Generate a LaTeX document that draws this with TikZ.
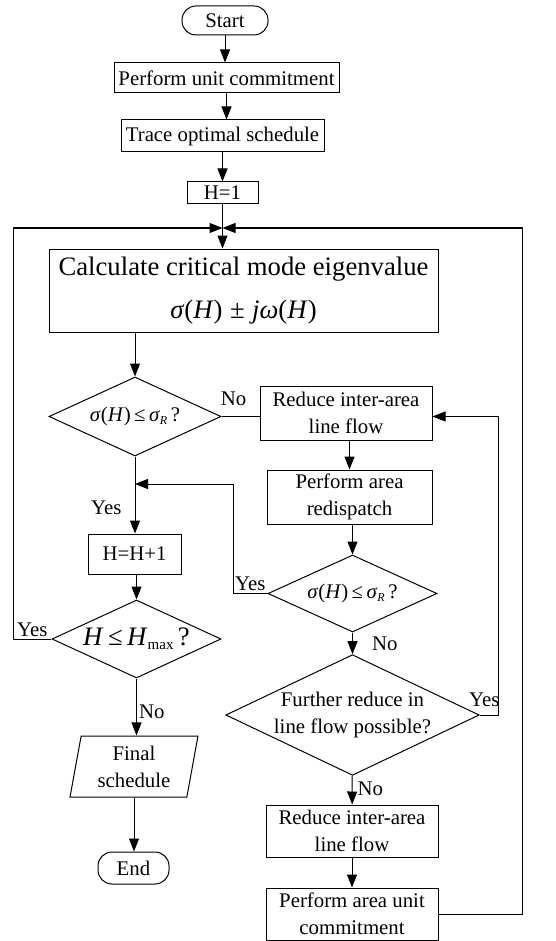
\documentclass[tikz,border=0pt]{standalone}
\usepackage{fontspec}
\setmainfont{Liberation Serif}
\usetikzlibrary{shapes.geometric,arrows.meta}

\newcommand{\normtext}{\fontsize{20.8}{27}\selectfont}
\newcommand{\bigtext}{\fontsize{26.7}{43}\selectfont}
\newcommand{\lowsub}[1]{\raisebox{-0.35ex}{\fontsize{12}{12}\selectfont #1}}

\begin{document}
\begin{tikzpicture}[x=1pt,y=-1pt,line width=1pt,
    >={Triangle[length=13pt,width=10pt]},
    every node/.style={font=\normtext},
    box/.style={rectangle,draw,inner sep=0pt,align=center},
    term/.style={rectangle,draw,rounded corners=14pt,inner sep=0pt},
    cond/.style={diamond,draw,aspect=2.1,inner sep=0pt,align=center},
    io/.style={trapezium,draw,trapezium left angle=75,trapezium right angle=105,
        trapezium stretches body,inner sep=0pt,align=center},
    lbl/.style={inner sep=2pt}]
\useasboundingbox (0,0) rectangle (556,941);

% main column
\path
(225,20.5) node[term,minimum width=86pt,minimum height=29pt](start) {Start}
(226.5,78) node[box,minimum width=225pt,minimum height=30pt](uc) {Perform unit commitment}
(222.5,136) node[box,minimum width=203pt,minimum height=32pt](trace) {Trace optimal schedule}
(222.5,193) node[box,minimum width=71pt,minimum height=22pt](hinit) {H=1}
(243.5,290.5) node[box,minimum width=389pt,minimum height=83pt,font=\bigtext](calc)
    {Calculate critical mode eigenvalue\\ \textit{σ}(\textit{H})\;±\;\textit{jω}(\textit{H})\hspace{12pt}}
(135,416.5) node[cond,minimum width=172pt,minimum height=79pt](d1)
    {\textit{σ}(\textit{H})\,≤\,\textit{σ}\lowsub{\textit{R}}\,?}
(134.5,554) node[box,minimum width=93pt,minimum height=40pt](hinc) {H=H+1}
(136.5,639) node[cond,minimum width=169pt,minimum height=78pt,font=\bigtext](d3)
    {\textit{H}\,≤\,\textit{H}\lowsub{\fontsize{15}{15}\selectfont max}\,?}
(134,766.5) node[io,minimum width=128pt,minimum height=61pt](final) {Final\\schedule}
(133.5,868) node[term,minimum width=71pt,minimum height=32pt](stop) {End};

% right column
\path
(346,413) node[box,minimum width=172pt,minimum height=54pt](r1) {Reduce inter-area\\line flow}
(349.5,497) node[box,minimum width=165pt,minimum height=54pt](redisp) {Perform area\\redispatch}
(352.5,593.5) node[cond,minimum width=169pt,minimum height=77pt](d2)
    {\textit{σ}(\textit{H})\,≤\,\textit{σ}\lowsub{\textit{R}}\,?}
(352.5,715) node[cond,minimum width=241pt,minimum height=114pt](d4)
    {Further reduce in\\line flow possible?}
(352,831) node[box,minimum width=172pt,minimum height=52pt](r2) {Reduce inter-area\\line flow}
(352,914) node[box,minimum width=172pt,minimum height=52pt](auc) {Perform area unit\\commitment};

\coordinate (j) at (222.5,228);
\coordinate (loopL) at (13,228);
\coordinate (loopR) at (522,228);
\coordinate (loopM) at (498,416.5);
\coordinate (ret) at (233,484);

\draw[->] (start) -- (start |- uc.north);
\draw[->] (uc) -- (uc |- trace.north);
\draw[->] (trace) -- (trace |- hinit.north);
\draw[->] (hinit) -- (hinit |- calc.north);
\draw[->] (calc.south -| d1) -- (d1);

\draw (d1) -- node[lbl,above=8pt,pos=0.32](no1) {No} (d1 -| r1.west);
\draw[->] (d1) -- node[lbl,left=11pt,pos=0.67](yes1) {Yes} (d1 |- hinc.north);
\draw[->] (d3 |- hinc.south) -- (d3);
\draw[->] (d3) -- node[lbl,above](yes3) {Yes} (d3 -| loopL) -- (loopL) -- (j);
\draw[->] (d3) -- node[lbl,right,pos=0.59](no3) {No} (d3 |- final.north);
\draw[->] (final) -- (final |- stop.north);

\draw[->] (redisp |- r1.south) -- (redisp);
\draw[->] (d2 |- redisp.south) -- (d2);
\draw[->] (d2) -- node[lbl,above](yes2) {Yes} (d2 -| ret) -- (ret) -- (ret -| d1);
\draw[->] (d2) -- node[lbl,right=17pt,pos=0.54](no2) {No} (d4);
\draw[->] (d4) -- node[lbl,above=6pt,pos=0.25](yes4) {Yes} (d4 -| loopM) -- (loopM) -- (loopM -| r1.east);
\draw[->] (d4) -- node[lbl,right=3pt,pos=0.45](no4) {No} (r2);
\draw[->] (r2) -- (auc);
\draw[->] (auc.east) -| (loopR) -- (j);
\end{tikzpicture}
\end{document}
